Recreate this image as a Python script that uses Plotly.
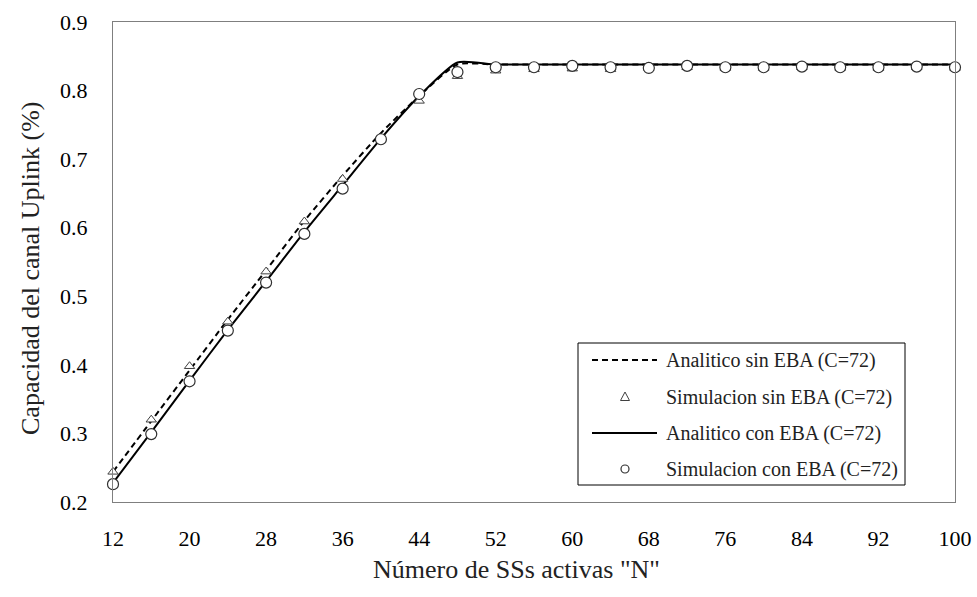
import plotly.graph_objects as go

# N activo (eje X) cada 4 SSs
N = [12, 16, 20, 24, 28, 32, 36, 40, 44, 48, 52, 56, 60, 64, 68, 72, 76, 80, 84, 88, 92, 96, 100]

# curvas analiticas
ana_sin = [0.244, 0.318, 0.392, 0.466, 0.538, 0.610, 0.676, 0.738, 0.792, 0.838, 0.838, 0.838,
           0.838, 0.838, 0.838, 0.838, 0.838, 0.838, 0.838, 0.838, 0.838, 0.838, 0.838]
ana_con = [0.228, 0.302, 0.377, 0.451, 0.522, 0.594, 0.662, 0.730, 0.792, 0.841, 0.838, 0.838,
           0.838, 0.838, 0.838, 0.838, 0.838, 0.838, 0.838, 0.838, 0.838, 0.838, 0.838]

# simulaciones
sim_sin = [0.244, 0.320, 0.398, 0.463, 0.536, 0.609, 0.671, 0.730, 0.785, 0.821, 0.829, 0.831,
           0.832, 0.831, 0.833, 0.834, 0.833, 0.833, 0.834, 0.833, 0.833, 0.834, 0.833]
sim_con = [0.226, 0.299, 0.376, 0.450, 0.520, 0.591, 0.657, 0.729, 0.795, 0.827, 0.834, 0.834,
           0.836, 0.834, 0.833, 0.836, 0.834, 0.834, 0.835, 0.834, 0.834, 0.835, 0.834]

SERIES = ["Analitico sin EBA (C=72)", "Simulacion sin EBA (C=72)",
          "Analitico con EBA (C=72)", "Simulacion con EBA (C=72)"]

FONT = "Liberation Serif"
TINTA = "#000000"
GUION = "6px,4px"
W, H = 977, 597
L, R, T, B = 113, 22, 22, 95


def px(x, y):
    """pixel de la figura -> coordenadas paper del area de trazado"""
    return (x - L) / (W - L - R), (H - B - y) / (H - T - B)


fig = go.Figure()
fig.add_trace(go.Scatter(x=N, y=ana_sin, mode="lines", name=SERIES[0],
                         line=dict(color=TINTA, width=2, dash=GUION, shape="spline", smoothing=0.6)))
fig.add_trace(go.Scatter(x=N, y=ana_con, mode="lines", name=SERIES[2],
                         line=dict(color=TINTA, width=2, shape="spline", smoothing=0.6)))
fig.add_trace(go.Scatter(x=N, y=sim_sin, mode="markers", name=SERIES[1],
                         marker=dict(symbol="triangle-up", size=9, color="white",
                                     line=dict(color="#404040", width=1)),
                         cliponaxis=False))
fig.add_trace(go.Scatter(x=N, y=sim_con, mode="markers", name=SERIES[3],
                         marker=dict(symbol="circle", size=11, color="white",
                                     line=dict(color="#303030", width=1.2)),
                         cliponaxis=False))

fig.update_xaxes(range=[12, 100], tickvals=list(range(12, 101, 8)), automargin=False,
                 showgrid=False, zeroline=False, showline=True, mirror=True,
                 linecolor="#7f7f7f", linewidth=1.2, ticks="", ticklabelstandoff=16,
                 tickfont=dict(family=FONT, size=22, color=TINTA))
fig.update_yaxes(range=[0.2, 0.9], dtick=0.1, tickformat=".1f", automargin=False,
                 showgrid=False, zeroline=False, showline=True, mirror=True,
                 linecolor="#7f7f7f", linewidth=1.2, ticks="", ticklabelstandoff=20,
                 tickfont=dict(family=FONT, size=22, color=TINTA))

# titulos de ejes
x0, y0 = px(516, 569)
fig.add_annotation(x=x0, y=y0, xref="paper", yref="paper", showarrow=False,
                   xanchor="center", yanchor="middle",
                   text='Número de SSs activas "N"', font=dict(family=FONT, size=26, color="#222"))
x0, y0 = px(30, 268)
fig.add_annotation(x=x0, y=y0, xref="paper", yref="paper", showarrow=False, textangle=-90,
                   xanchor="center", yanchor="middle",
                   text="Capacidad del canal Uplink (%)", font=dict(family=FONT, size=26, color="#222"))

# leyenda dibujada a mano
bx0, by0 = px(578, 485)
bx1, by1 = px(905, 343)
fig.add_shape(type="rect", xref="paper", yref="paper", x0=bx0, y0=by0, x1=bx1, y1=by1,
              line=dict(color="#000", width=1), fillcolor="white", layer="above")
filas = [360, 397, 433, 469]
for i, (nombre, yy) in enumerate(zip(SERIES, filas)):
    if i in (0, 2):
        a, yl = px(592, yy)
        b, _ = px(657, yy)
        fig.add_shape(type="line", xref="paper", yref="paper", x0=a, x1=b, y0=yl, y1=yl,
                      line=dict(color=TINTA, width=2, dash=GUION if i == 0 else "solid"),
                      layer="above")
    elif i == 1:
        c = [px(625 + dx, yy + dy) for dx, dy in [(0, -5), (4.5, 3.5), (-4.5, 3.5)]]
        path = "M {} {} L {} {} L {} {} Z".format(*[v for p in c for v in p])
        fig.add_shape(type="path", xref="paper", yref="paper", path=path,
                      line=dict(color="#404040", width=1), fillcolor="white", layer="above")
    else:
        a, b_ = px(621, yy + 4)
        c_, d = px(629, yy - 4)
        fig.add_shape(type="circle", xref="paper", yref="paper", x0=a, y0=b_, x1=c_, y1=d,
                      line=dict(color="#303030", width=1.2), fillcolor="white", layer="above")
    tx, ty = px(664, yy)
    fig.add_annotation(x=tx, y=ty, xref="paper", yref="paper", showarrow=False,
                       xanchor="left", yanchor="middle", text=nombre,
                       font=dict(family=FONT, size=20, color="#222"))

fig.update_layout(
    width=W, height=H,
    paper_bgcolor="white", plot_bgcolor="white",
    margin=dict(l=L, r=R, t=T, b=B),
    showlegend=False,
)

# sin margen en <body>: la figura ocupa exactamente la ventana
fig.write_html("out.html", config={"displayModeBar": False},
               post_script="document.body.style.margin='0';")
